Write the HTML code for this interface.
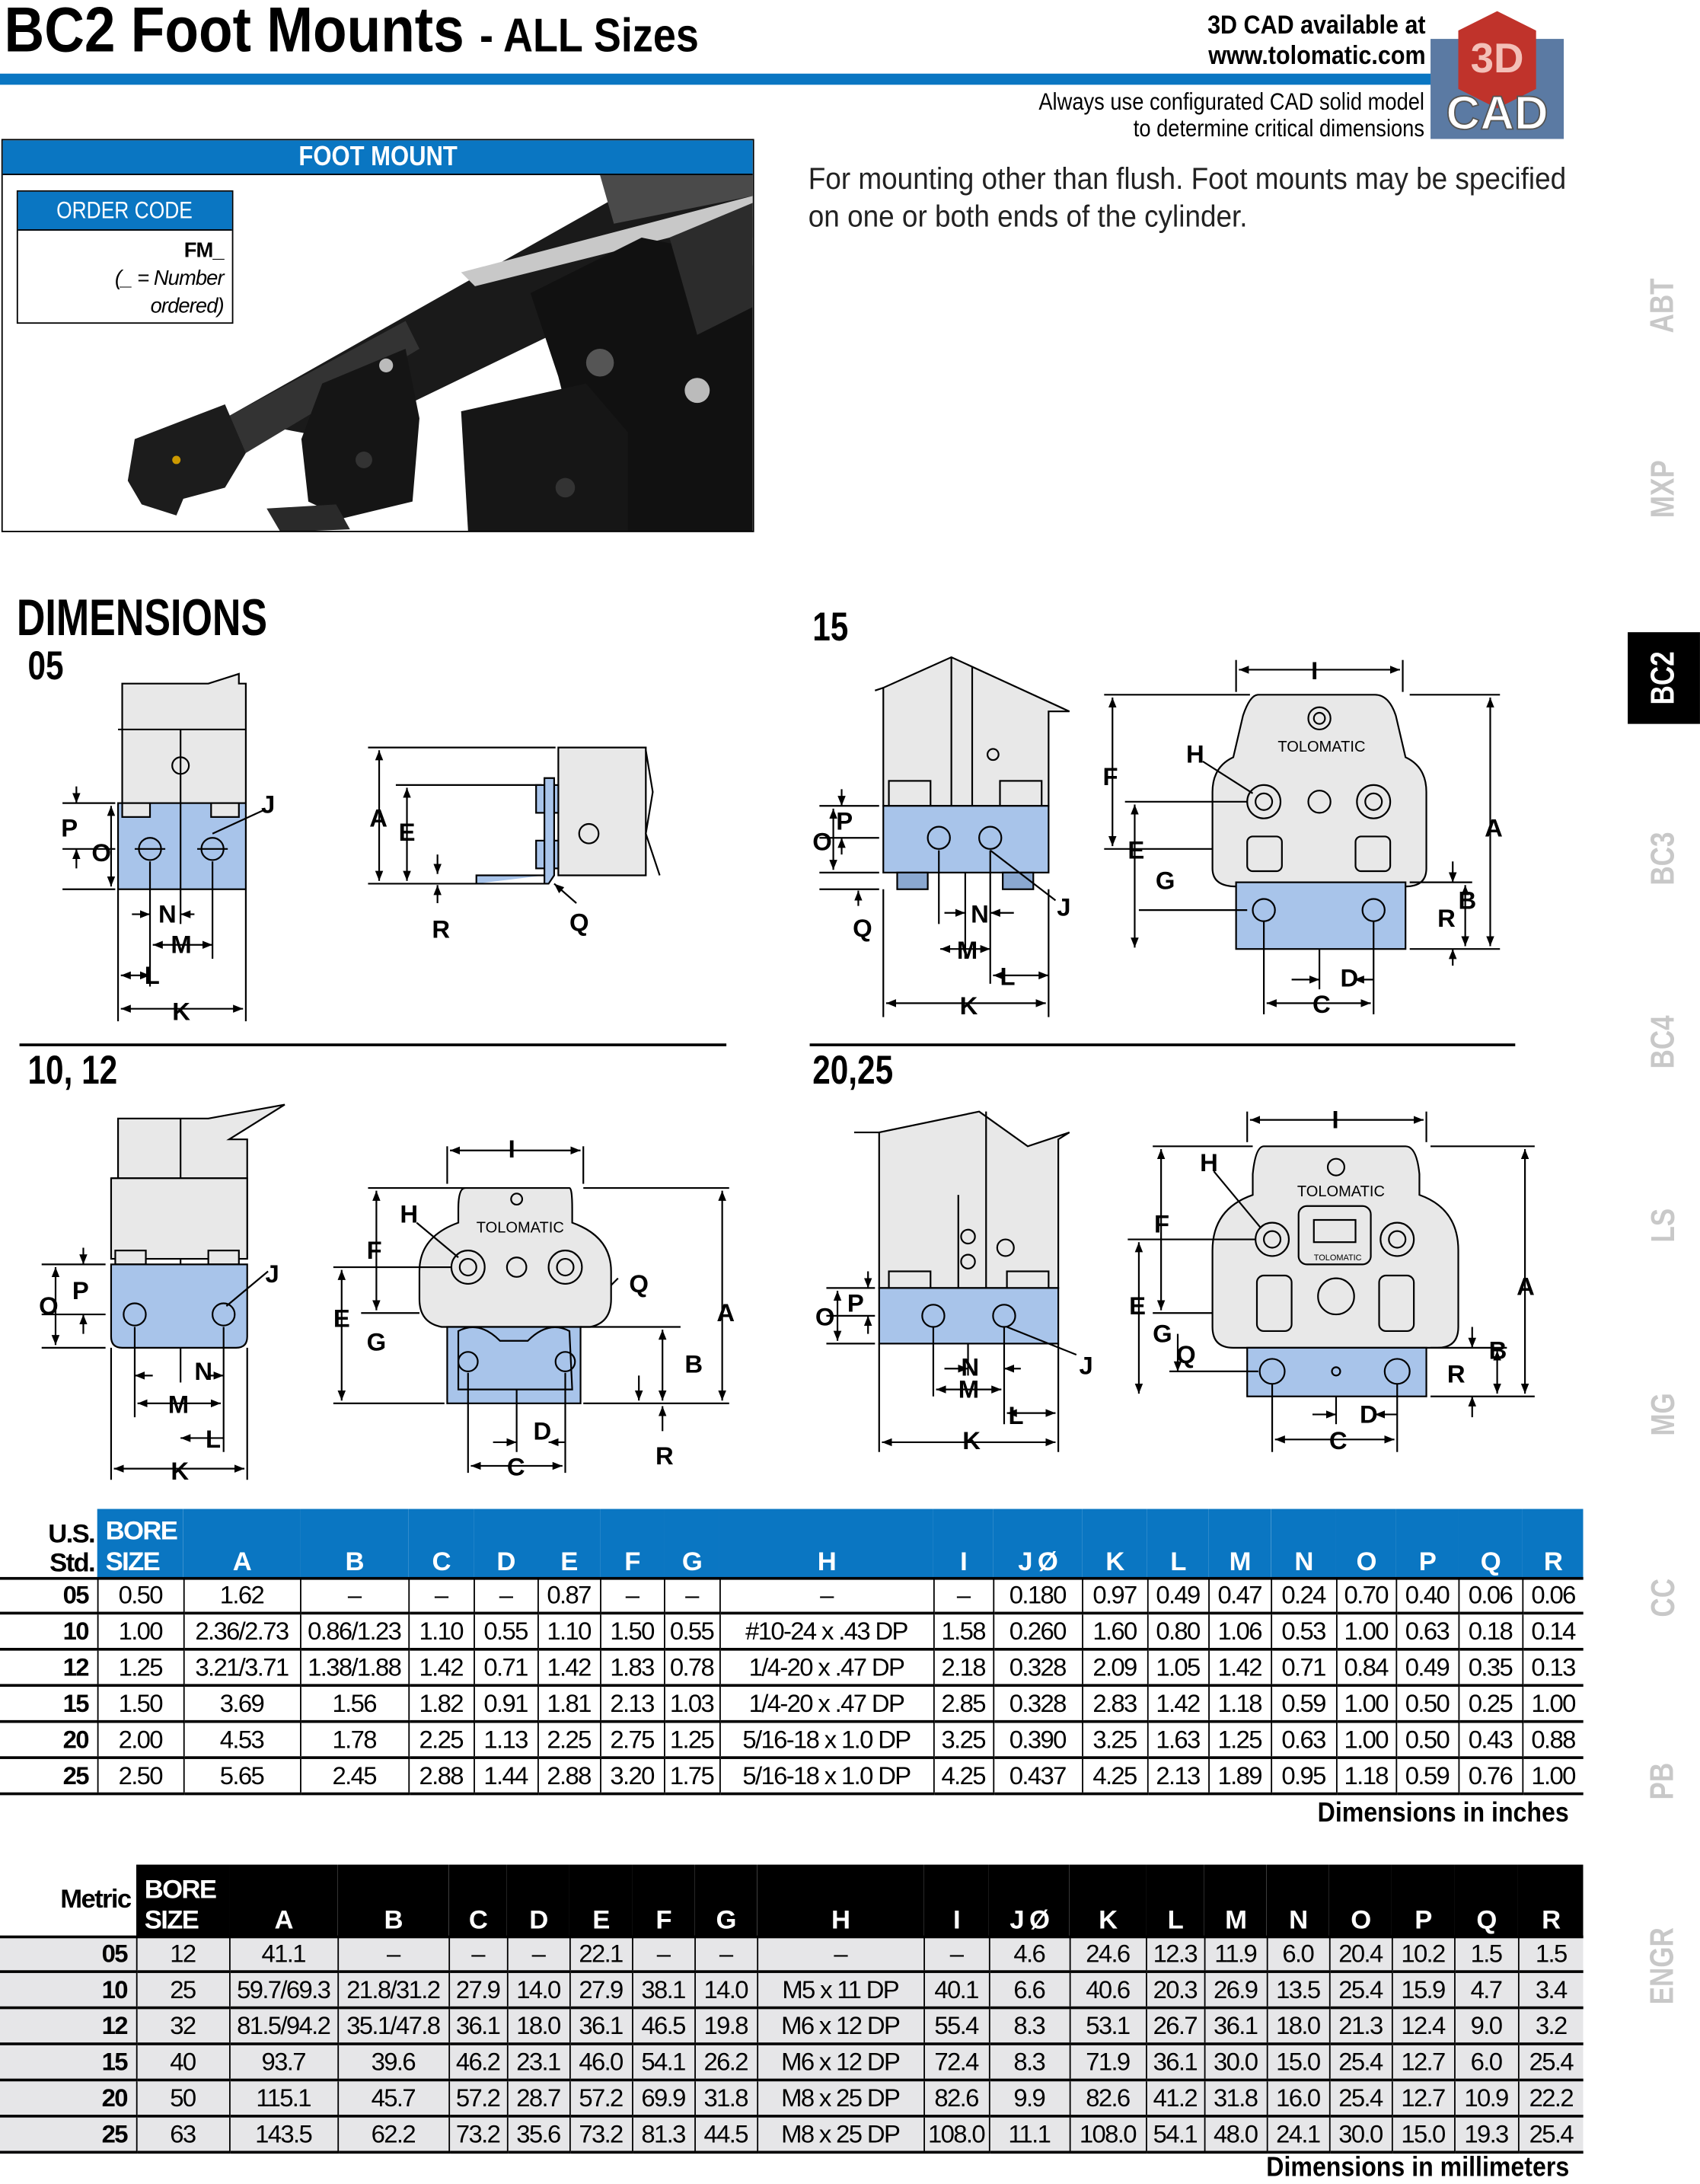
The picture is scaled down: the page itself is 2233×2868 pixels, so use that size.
<!DOCTYPE html>
<html><head><meta charset="utf-8">
<style>
html,body{margin:0;padding:0;background:#fff;}
body{width:2233px;height:2861px;overflow:hidden;position:relative;}
#pg{position:absolute;left:0;top:0;width:1224px;height:1568px;transform:scale(1.8243,1.8246);transform-origin:0 0;font-family:"Liberation Sans",sans-serif;}
.a{position:absolute;white-space:nowrap;}
.cl{transform:scaleX(0.8);transform-origin:0 0;}
.cr{transform:scaleX(0.88);transform-origin:100% 0;}
table{border-collapse:collapse;position:absolute;table-layout:fixed;font-family:"Liberation Sans",sans-serif;}
td{padding:0;text-align:center;font-size:18px;letter-spacing:-0.9px;height:24px;line-height:24px;overflow:hidden;white-space:nowrap;}
.us td{border-left:1px solid #000;border-bottom:2px solid #000;}
.us tr.h td{border:none;background:#0a76c2;color:#fff;font-weight:bold;font-size:19px;vertical-align:bottom;line-height:22px;height:50px;}
.us tr.h td.f{background:#fff;color:#000;text-align:right;padding-right:2px;line-height:21px;}
.us td.f{border-left:none;font-weight:bold;text-align:right;padding-right:6px;}
.mt td{border-left:1.5px solid #000;border-bottom:2px solid #000;background:#e6e6e8;}
.mt tr.h td{border:none;background:#000;color:#fff;font-weight:bold;font-size:19px;vertical-align:bottom;line-height:22px;height:52px;}
.mt tr.h td.f{background:#fff;color:#000;text-align:right;padding-right:4px;vertical-align:middle;}
.mt td.f{border-left:none;font-weight:bold;text-align:right;padding-right:6px;}
.tab{position:absolute;left:1172px;width:52px;height:60px;color:#c8c8c8;font-weight:bold;font-size:24px;display:flex;align-items:center;justify-content:center;}
.tab span{transform:rotate(-90deg) scaleX(0.8);display:block;}
</style></head><body><div id="pg">

<div class="a cl" style="left:3px;top:-6px;font-size:46px;font-weight:bold;transform:scaleX(0.87);">BC2 Foot Mounts <span style="font-size:34px;">- ALL Sizes</span></div>
<div class="a cr" style="right:198px;top:8px;font-size:19px;font-weight:bold;text-align:right;line-height:22px;">3D CAD available at<br>www.tolomatic.com</div>
<div class="a" style="left:0;top:53px;width:1045px;height:8px;background:#0a76c2;"></div>
<div class="a cr" style="right:198px;top:64px;font-size:17px;text-align:right;line-height:19px;">Always use configurated CAD solid model<br>to determine critical dimensions</div>
<svg class="a" style="left:1030px;top:8px;" width="96" height="92" viewBox="0 0 96 92">
<rect x="0" y="20" width="96" height="72" fill="#5b7aa3"/>
<polygon points="48,0 76,14 76,56 48,70 20,56 20,14" fill="#c0332b"/>
<text x="48" y="44" font-size="30" font-weight="bold" fill="#f3c0b8" text-anchor="middle" font-family="Liberation Sans">3D</text>
<text x="48" y="85" font-size="34" font-weight="bold" fill="#fff" stroke="#555" stroke-width="1" text-anchor="middle" font-family="Liberation Sans">CAD</text>
</svg>

<!-- foot mount box -->
<div class="a" style="left:1px;top:100px;width:540px;height:281px;border:1.5px solid #000;background:#fff;overflow:hidden;">
<svg width="540" height="281" style="position:absolute;left:0;top:0">
<polygon points="160,200 470,25 540,25 540,70 240,215" fill="#1a1a1a"/>
<polygon points="330,95 540,40 540,55 340,105" fill="#c8c8c8"/>
<polygon points="430,25 540,25 540,40 440,60" fill="#4a4a4a"/>
<polygon points="160,200 290,130 300,150 175,225" fill="#333"/>
<polygon points="95,215 160,190 175,225 160,250 130,258 125,270 100,262 90,245" fill="#1c1c1c"/>
<polygon points="230,175 290,150 300,200 295,260 245,272 220,260 215,215" fill="#151515"/>
<polygon points="190,265 240,262 250,280 200,282" fill="#2a2a2a"/>
<polygon points="380,110 460,70 510,80 540,90 540,281 440,281 420,250 400,170" fill="#111"/>
<polygon points="330,195 420,175 450,210 450,281 335,281" fill="#161616"/>
<polygon points="480,70 540,45 540,120 500,140" fill="#2c2c2c"/>
<circle cx="430" cy="160" r="10" fill="#555"/><circle cx="500" cy="180" r="9" fill="#bbb"/>
<circle cx="276" cy="162" r="5" fill="#bbb"/><circle cx="125" cy="230" r="3" fill="#c90"/>
<circle cx="405" cy="250" r="7" fill="#333"/><circle cx="260" cy="230" r="6" fill="#333"/>
</svg>
<div class="a" style="left:0;top:0;width:540px;height:24px;background:#0a76c2;border-bottom:1.5px solid #000;color:#fff;font-weight:bold;font-size:20px;text-align:center;line-height:25px;"><span style="display:inline-block;transform:scaleX(0.85);">FOOT MOUNT</span></div>
<div class="a" style="left:10px;top:36px;width:154px;height:94px;border:1.5px solid #000;background:#fff;">
<div style="height:27px;background:#0a76c2;border-bottom:1.5px solid #000;color:#fff;font-size:17px;text-align:center;line-height:28px;"><span style="display:inline-block;transform:scaleX(0.85);">ORDER CODE</span></div>
<div style="text-align:right;padding-right:6px;font-size:15px;line-height:20px;margin-top:5px;letter-spacing:-0.5px;"><b>FM_</b><br><i>(_ = Number<br>ordered)</i></div>
</div></div>

<div class="a" style="left:582px;top:115px;font-size:22px;line-height:27px;color:#222;transform:scaleX(0.92);transform-origin:0 0;">For mounting other than flush. Foot mounts may be specified<br>on one or both ends of the cylinder.</div>

<!-- side tabs -->
<div class="tab" style="top:190px;"><span>ABT</span></div>
<div class="tab" style="top:322px;"><span>MXP</span></div>
<div class="tab" style="top:455px;height:66px;background:#000;color:#fff;"><span>BC2</span></div>
<div class="tab" style="top:588px;"><span>BC3</span></div>
<div class="tab" style="top:720px;"><span>BC4</span></div>
<div class="tab" style="top:852px;"><span>LS</span></div>
<div class="tab" style="top:988px;"><span>MG</span></div>
<div class="tab" style="top:1120px;"><span>CC</span></div>
<div class="tab" style="top:1252px;"><span>PB</span></div>
<div class="tab" style="top:1385px;"><span>ENGR</span></div>

<div class="a" style="left:12px;top:424px;font-size:37px;font-weight:bold;transform:scaleX(0.77);transform-origin:0 0;">DIMENSIONS</div>
<div class="a cl" style="left:20px;top:464px;font-size:29px;font-weight:bold;">05</div>
<div class="a cl" style="left:585px;top:436px;font-size:29px;font-weight:bold;">15</div>
<div class="a cl" style="left:20px;top:755px;font-size:29px;font-weight:bold;">10, 12</div>
<div class="a cl" style="left:585px;top:755px;font-size:29px;font-weight:bold;">20,25</div>
<div class="a" style="left:14px;top:751px;width:509px;height:2px;background:#000;"></div>
<div class="a" style="left:583px;top:751px;width:508px;height:2px;background:#000;"></div>

<svg class="a" style="left:0;top:0" width="1224" height="1568" viewBox="0 0 1224 1568" font-family="Liberation Sans, sans-serif" font-size="18" font-weight="bold">
<defs><marker id="ar" viewBox="0 0 10 10" refX="10" refY="5" markerWidth="6" markerHeight="6" orient="auto-start-reverse"><path d="M0,1 L10,5 L0,9z" fill="#000"/></marker></defs>
<g stroke="#000" stroke-width="1.2" fill="none">
<!-- 05 front -->
<path d="M88,580 L88,492 L150,492 L172,485 L172,492 L177,492 L177,580Z" fill="#e8e8e8"/>
<line x1="85" y1="525" x2="177" y2="525"/>
<rect x="85" y="578" width="92" height="62" fill="#a8c4ea"/>
<rect x="88" y="578" width="20" height="10" fill="#e8e8e8"/><rect x="152" y="578" width="20" height="10" fill="#e8e8e8"/>
<line x1="130" y1="525" x2="130" y2="640"/>
<circle cx="130" cy="551" r="6"/><circle cx="108" cy="611" r="8"/><circle cx="153" cy="611" r="8"/>
<line x1="97" y1="611" x2="119" y2="611"/><line x1="142" y1="611" x2="164" y2="611"/>
<line x1="153" y1="600" x2="190" y2="583"/>
<line x1="45" y1="578" x2="83" y2="578"/><line x1="45" y1="611" x2="83" y2="611"/><line x1="45" y1="640" x2="83" y2="640"/>
<line x1="55" y1="566" x2="55" y2="578" marker-end="url(#ar)"/><line x1="55" y1="625" x2="55" y2="611" marker-end="url(#ar)"/>
<line x1="80" y1="580" x2="80" y2="638" marker-start="url(#ar)" marker-end="url(#ar)"/>
<line x1="85" y1="640" x2="85" y2="735"/><line x1="177" y1="640" x2="177" y2="735"/>
<line x1="108" y1="620" x2="108" y2="710"/><line x1="153" y1="620" x2="153" y2="690"/><line x1="130" y1="640" x2="130" y2="665"/>
<line x1="95" y1="658" x2="108" y2="658" marker-end="url(#ar)"/><line x1="140" y1="658" x2="130" y2="658" marker-end="url(#ar)"/>
<line x1="110" y1="680" x2="153" y2="680" marker-start="url(#ar)" marker-end="url(#ar)"/>
<line x1="87" y1="702" x2="108" y2="702" marker-start="url(#ar)" marker-end="url(#ar)"/>
<line x1="87" y1="726" x2="175" y2="726" marker-start="url(#ar)" marker-end="url(#ar)"/>
<!-- 05 side -->
<path d="M402,538 L465,538 L465,630 L402,630Z" fill="#e8e8e8"/>
<path d="M465,540 L470,570 L465,600 L475,630" />
<rect x="386" y="565" width="16" height="20" fill="#a8c4ea"/><rect x="386" y="605" width="16" height="20" fill="#a8c4ea"/>
<path d="M343,636 L392,636 L392,560 L399,560 L399,630 L395,636 L343,636 L343,630 L392,630" fill="#a8c4ea"/>
<circle cx="424" cy="600" r="7"/>
<line x1="265" y1="538" x2="400" y2="538"/><line x1="265" y1="636" x2="343" y2="636"/><line x1="285" y1="565" x2="390" y2="565"/>
<line x1="273" y1="540" x2="273" y2="634" marker-start="url(#ar)" marker-end="url(#ar)"/>
<line x1="293" y1="567" x2="293" y2="634" marker-start="url(#ar)" marker-end="url(#ar)"/>
<line x1="315" y1="650" x2="315" y2="637" marker-end="url(#ar)"/><line x1="315" y1="615" x2="315" y2="629" marker-end="url(#ar)"/>
<line x1="415" y1="650" x2="399" y2="636" marker-end="url(#ar)"/>
<!-- 15 side -->
<path d="M636,580 L636,495 L685,473 L770,512 L755,512 L755,580Z" fill="#e8e8e8"/>
<line x1="685" y1="473" x2="685" y2="580"/><line x1="700" y1="480" x2="700" y2="580"/><line x1="630" y1="497" x2="636" y2="495"/>
<circle cx="715" cy="543" r="4"/>
<rect x="640" y="562" width="30" height="18" fill="#e8e8e8"/><rect x="720" y="562" width="30" height="18" fill="#e8e8e8"/>
<rect x="636" y="580" width="119" height="48" fill="#a8c4ea"/>
<rect x="646" y="628" width="22" height="12" fill="#8aa8d0"/><rect x="722" y="628" width="22" height="12" fill="#8aa8d0"/>
<circle cx="676" cy="603" r="8"/><circle cx="713" cy="603" r="8"/>
<line x1="713" y1="612" x2="760" y2="648"/>
<line x1="590" y1="580" x2="633" y2="580"/><line x1="590" y1="603" x2="633" y2="603"/><line x1="590" y1="628" x2="633" y2="628"/><line x1="590" y1="640" x2="633" y2="640"/>
<line x1="606" y1="568" x2="606" y2="580" marker-end="url(#ar)"/><line x1="606" y1="615" x2="606" y2="603" marker-end="url(#ar)"/>
<line x1="600" y1="582" x2="600" y2="626" marker-start="url(#ar)" marker-end="url(#ar)"/>
<line x1="618" y1="652" x2="618" y2="641" marker-end="url(#ar)"/>
<line x1="636" y1="640" x2="636" y2="732"/><line x1="755" y1="640" x2="755" y2="732"/><line x1="676" y1="612" x2="676" y2="665"/><line x1="713" y1="612" x2="713" y2="708"/><line x1="695" y1="628" x2="695" y2="690"/>
<line x1="680" y1="657" x2="695" y2="657" marker-end="url(#ar)"/><line x1="730" y1="657" x2="713" y2="657" marker-end="url(#ar)"/>
<line x1="677" y1="683" x2="713" y2="683" marker-start="url(#ar)" marker-end="url(#ar)"/>
<line x1="715" y1="702" x2="755" y2="702" marker-start="url(#ar)" marker-end="url(#ar)"/>
<line x1="638" y1="722" x2="753" y2="722" marker-start="url(#ar)" marker-end="url(#ar)"/>
<!-- 15 front -->
<path d="M906,500 L990,500 Q1000,500 1005,515 L1012,545 Q1027,552 1027,570 L1027,625 Q1027,638 1012,638 L890,638 Q873,638 873,625 L873,570 Q873,552 888,545 L895,515 Q900,500 906,500Z" fill="#e8e8e8"/>
<rect x="890" y="635" width="122" height="48" fill="#a8c4ea"/>
<circle cx="910" cy="577" r="12"/><circle cx="910" cy="577" r="6"/><circle cx="989" cy="577" r="12"/><circle cx="989" cy="577" r="6"/>
<circle cx="950" cy="577" r="8"/><circle cx="950" cy="517" r="8"/><circle cx="950" cy="517" r="4"/>
<rect x="898" y="602" width="25" height="25" rx="4"/><rect x="976" y="602" width="25" height="25" rx="4"/>
<circle cx="910" cy="655" r="8"/><circle cx="989" cy="655" r="8"/>
<line x1="890" y1="475" x2="890" y2="498"/><line x1="1010" y1="475" x2="1010" y2="498"/>
<line x1="892" y1="482" x2="1008" y2="482" marker-start="url(#ar)" marker-end="url(#ar)"/>
<line x1="866" y1="548" x2="902" y2="571"/>
<line x1="795" y1="500" x2="900" y2="500"/><line x1="795" y1="611" x2="873" y2="611"/><line x1="810" y1="577" x2="898" y2="577"/><line x1="820" y1="655" x2="898" y2="655"/>
<line x1="801" y1="502" x2="801" y2="609" marker-start="url(#ar)" marker-end="url(#ar)"/>
<line x1="817" y1="579" x2="817" y2="682" marker-start="url(#ar)" marker-end="url(#ar)"/>
<line x1="1015" y1="683" x2="1080" y2="683"/><line x1="1015" y1="500" x2="1080" y2="500"/><line x1="1015" y1="635" x2="1060" y2="635"/>
<line x1="1073" y1="502" x2="1073" y2="681" marker-start="url(#ar)" marker-end="url(#ar)"/>
<line x1="1055" y1="637" x2="1055" y2="681" marker-start="url(#ar)" marker-end="url(#ar)"/>
<line x1="1046" y1="620" x2="1046" y2="635" marker-end="url(#ar)"/><line x1="1046" y1="695" x2="1046" y2="683" marker-end="url(#ar)"/>
<line x1="910" y1="663" x2="910" y2="730"/><line x1="989" y1="663" x2="989" y2="730"/><line x1="950" y1="683" x2="950" y2="712"/>
<line x1="930" y1="705" x2="950" y2="705" marker-end="url(#ar)"/><line x1="975" y1="705" x2="989" y2="705" marker-start="url(#ar)"/>
<line x1="912" y1="722" x2="987" y2="722" marker-start="url(#ar)" marker-end="url(#ar)"/>
<!-- 10,12 side -->
<path d="M85,905 L85,805 L150,805 L205,795 L165,820 L178,820 L178,905Z" fill="#e8e8e8"/>
<line x1="80" y1="848" x2="178" y2="848"/><line x1="130" y1="805" x2="130" y2="970"/>
<rect x="80" y="848" width="98" height="58" fill="#e8e8e8"/>
<rect x="83" y="900" width="22" height="10" fill="#e8e8e8"/><rect x="150" y="900" width="22" height="10" fill="#e8e8e8"/>
<path d="M80,910 L178,910 L178,962 Q178,970 170,970 L88,970 Q80,970 80,962Z" fill="#a8c4ea"/>
<circle cx="97" cy="946" r="8"/><circle cx="161" cy="946" r="8"/>
<line x1="163" y1="940" x2="193" y2="915"/>
<line x1="30" y1="910" x2="76" y2="910"/><line x1="30" y1="946" x2="76" y2="946"/><line x1="30" y1="970" x2="76" y2="970"/>
<line x1="60" y1="898" x2="60" y2="910" marker-end="url(#ar)"/><line x1="60" y1="960" x2="60" y2="946" marker-end="url(#ar)"/>
<line x1="40" y1="912" x2="40" y2="968" marker-start="url(#ar)" marker-end="url(#ar)"/>
<line x1="80" y1="970" x2="80" y2="1065"/><line x1="178" y1="970" x2="178" y2="1065"/><line x1="97" y1="955" x2="97" y2="1020"/><line x1="161" y1="955" x2="161" y2="1045"/><line x1="130" y1="970" x2="130" y2="995"/>
<line x1="110" y1="990" x2="97" y2="990" marker-end="url(#ar)"/><line x1="150" y1="990" x2="161" y2="990" marker-end="url(#ar)"/>
<line x1="99" y1="1010" x2="159" y2="1010" marker-start="url(#ar)" marker-end="url(#ar)"/>
<line x1="130" y1="1035" x2="161" y2="1035" marker-start="url(#ar)"/>
<line x1="82" y1="1057" x2="176" y2="1057" marker-start="url(#ar)" marker-end="url(#ar)"/>
<!-- 10,12 front -->
<path d="M335,855 L410,855 Q412,855 412,870 L412,880 Q440,890 440,915 L440,935 Q440,952 425,955 L318,955 Q302,952 302,935 L302,915 Q302,890 330,880 L330,870 Q330,855 335,855Z" fill="#e8e8e8"/>
<path d="M322,955 L418,955 L418,1010 L322,1010Z" fill="#a8c4ea"/>
<path d="M330,958 Q345,950 360,965 L380,965 Q395,950 410,958 L412,1000 L330,1000Z" fill="#a8c4ea"/>
<circle cx="337" cy="912" r="12"/><circle cx="337" cy="912" r="6"/><circle cx="407" cy="912" r="12"/><circle cx="407" cy="912" r="6"/>
<circle cx="372" cy="912" r="7"/><circle cx="372" cy="863" r="4"/>
<circle cx="337" cy="980" r="7"/><circle cx="407" cy="980" r="7"/>
<line x1="322" y1="825" x2="322" y2="852"/><line x1="420" y1="825" x2="420" y2="852"/>
<line x1="324" y1="828" x2="418" y2="828" marker-start="url(#ar)" marker-end="url(#ar)"/>
<line x1="300" y1="880" x2="330" y2="905"/>
<line x1="265" y1="855" x2="335" y2="855"/><line x1="240" y1="912" x2="325" y2="912"/><line x1="240" y1="1010" x2="320" y2="1010"/><line x1="260" y1="945" x2="302" y2="945"/>
<line x1="271" y1="857" x2="271" y2="943" marker-start="url(#ar)" marker-end="url(#ar)"/>
<line x1="246" y1="914" x2="246" y2="1008" marker-start="url(#ar)" marker-end="url(#ar)"/>
<line x1="420" y1="855" x2="525" y2="855"/><line x1="420" y1="1010" x2="525" y2="1010"/><line x1="418" y1="955" x2="490" y2="955"/>
<line x1="520" y1="857" x2="520" y2="1008" marker-start="url(#ar)" marker-end="url(#ar)"/>
<line x1="477" y1="957" x2="477" y2="1008" marker-start="url(#ar)" marker-end="url(#ar)"/>
<line x1="460" y1="990" x2="460" y2="1008" marker-end="url(#ar)"/><line x1="445" y1="920" x2="440" y2="925"/>
<line x1="477" y1="1030" x2="477" y2="1012" marker-end="url(#ar)"/>
<line x1="337" y1="988" x2="337" y2="1060"/><line x1="407" y1="988" x2="407" y2="1060"/><line x1="372" y1="1000" x2="372" y2="1045"/>
<line x1="355" y1="1038" x2="372" y2="1038" marker-end="url(#ar)"/><line x1="395" y1="1038" x2="407" y2="1038" marker-start="url(#ar)"/>
<line x1="339" y1="1055" x2="405" y2="1055" marker-start="url(#ar)" marker-end="url(#ar)"/>
<!-- 20,25 side -->
<path d="M633,927 L633,815 L705,800 L740,825 L770,815 L762,820 L762,927Z" fill="#e8e8e8"/>
<line x1="633" y1="815" x2="615" y2="815"/><line x1="710" y1="800" x2="710" y2="927"/><line x1="690" y1="860" x2="690" y2="927"/>
<circle cx="697" cy="890" r="5"/><circle cx="697" cy="908" r="5"/><circle cx="724" cy="898" r="6"/>
<rect x="640" y="915" width="30" height="12" fill="#e8e8e8"/><rect x="725" y="915" width="30" height="12" fill="#e8e8e8"/>
<rect x="633" y="927" width="129" height="40" fill="#a8c4ea"/>
<circle cx="672" cy="947" r="8"/><circle cx="723" cy="947" r="8"/>
<line x1="725" y1="955" x2="775" y2="975"/>
<line x1="595" y1="927" x2="630" y2="927"/><line x1="595" y1="947" x2="630" y2="947"/><line x1="595" y1="967" x2="630" y2="967"/>
<line x1="625" y1="915" x2="625" y2="927" marker-end="url(#ar)"/><line x1="625" y1="960" x2="625" y2="947" marker-end="url(#ar)"/>
<line x1="603" y1="929" x2="603" y2="965" marker-start="url(#ar)" marker-end="url(#ar)"/>
<line x1="633" y1="967" x2="633" y2="1045"/><line x1="762" y1="967" x2="762" y2="1045"/><line x1="672" y1="955" x2="672" y2="1005"/><line x1="723" y1="955" x2="723" y2="1025"/><line x1="697" y1="967" x2="697" y2="990"/>
<line x1="680" y1="985" x2="697" y2="985" marker-end="url(#ar)"/><line x1="735" y1="985" x2="723" y2="985" marker-end="url(#ar)"/>
<line x1="674" y1="1000" x2="721" y2="1000" marker-start="url(#ar)" marker-end="url(#ar)"/>
<line x1="725" y1="1017" x2="760" y2="1017" marker-start="url(#ar)" marker-end="url(#ar)"/>
<line x1="635" y1="1038" x2="760" y2="1038" marker-start="url(#ar)" marker-end="url(#ar)"/>
<!-- 20,25 front -->
<path d="M910,825 L1012,825 Q1020,825 1022,845 L1022,860 Q1050,870 1050,900 L1050,955 Q1050,970 1035,970 L888,970 Q873,970 873,955 L873,900 Q873,870 902,860 L902,845 Q904,825 910,825Z" fill="#e8e8e8"/>
<rect x="898" y="970" width="129" height="35" fill="#a8c4ea"/>
<circle cx="916" cy="892" r="12"/><circle cx="916" cy="892" r="6"/><circle cx="1006" cy="892" r="12"/><circle cx="1006" cy="892" r="6"/>
<rect x="935" y="868" width="52" height="42" rx="6"/><rect x="946" y="878" width="30" height="16"/>
<circle cx="962" cy="840" r="6"/><circle cx="962" cy="933" r="13"/>
<rect x="905" y="918" width="25" height="40" rx="5"/><rect x="993" y="918" width="25" height="40" rx="5"/>
<circle cx="916" cy="987" r="9"/><circle cx="1006" cy="987" r="9"/><circle cx="962" cy="987" r="3"/>
<line x1="898" y1="800" x2="898" y2="822"/><line x1="1027" y1="800" x2="1027" y2="822"/>
<line x1="900" y1="806" x2="1025" y2="806" marker-start="url(#ar)" marker-end="url(#ar)"/>
<line x1="874" y1="843" x2="908" y2="884"/>
<line x1="830" y1="825" x2="902" y2="825"/><line x1="812" y1="892" x2="904" y2="892"/><line x1="830" y1="945" x2="873" y2="945"/><line x1="842" y1="987" x2="906" y2="987"/>
<line x1="836" y1="827" x2="836" y2="943" marker-start="url(#ar)" marker-end="url(#ar)"/>
<line x1="820" y1="894" x2="820" y2="1003" marker-start="url(#ar)" marker-end="url(#ar)"/>
<line x1="848" y1="960" x2="848" y2="987" marker-end="url(#ar)"/>
<line x1="1030" y1="825" x2="1105" y2="825"/><line x1="1030" y1="1005" x2="1105" y2="1005"/><line x1="1030" y1="970" x2="1085" y2="970"/>
<line x1="1098" y1="827" x2="1098" y2="1003" marker-start="url(#ar)" marker-end="url(#ar)"/>
<line x1="1078" y1="972" x2="1078" y2="1003" marker-start="url(#ar)" marker-end="url(#ar)"/>
<line x1="1060" y1="955" x2="1060" y2="970" marker-end="url(#ar)"/><line x1="1060" y1="1020" x2="1060" y2="1005" marker-end="url(#ar)"/>
<line x1="916" y1="996" x2="916" y2="1045"/><line x1="1006" y1="996" x2="1006" y2="1045"/><line x1="962" y1="1005" x2="962" y2="1025"/>
<line x1="945" y1="1018" x2="962" y2="1018" marker-end="url(#ar)"/><line x1="990" y1="1018" x2="1006" y2="1018" marker-start="url(#ar)"/>
<line x1="918" y1="1036" x2="1004" y2="1036" marker-start="url(#ar)" marker-end="url(#ar)"/>
</g>
<g fill="#000">
<text x="188" y="585">J</text><text x="44" y="602">P</text><text x="66" y="620">O</text><text x="114" y="664">N</text><text x="123" y="686">M</text><text x="104" y="708">L</text><text x="124" y="734">K</text>
<text x="266" y="595">A</text><text x="287" y="605">E</text><text x="311" y="675">R</text><text x="410" y="670">Q</text>
<text x="602" y="597">P</text><text x="585" y="612">O</text><text x="614" y="674">Q</text><text x="699" y="664">N</text><text x="689" y="690">M</text><text x="720" y="709">L</text><text x="691" y="730">K</text><text x="761" y="659">J</text>
<text x="944" y="489">I</text><text x="854" y="549">H</text><text x="794" y="565">F</text><text x="812" y="618">E</text><text x="832" y="640">G</text><text x="1069" y="602">A</text><text x="1050" y="654">B</text><text x="1035" y="667">R</text><text x="965" y="710">D</text><text x="945" y="729">C</text>
<text x="191" y="923">J</text><text x="52" y="935">P</text><text x="28" y="946">O</text><text x="140" y="993">N</text><text x="121" y="1017">M</text><text x="148" y="1042">L</text><text x="123" y="1065">K</text>
<text x="366" y="833">I</text><text x="288" y="880">H</text><text x="264" y="906">F</text><text x="240" y="955">E</text><text x="264" y="972">G</text><text x="453" y="930">Q</text><text x="516" y="951">A</text><text x="493" y="988">B</text><text x="472" y="1054">R</text><text x="384" y="1036">D</text><text x="365" y="1062">C</text>
<text x="610" y="944">P</text><text x="587" y="954">O</text><text x="692" y="990">N</text><text x="690" y="1006">M</text><text x="726" y="1025">L</text><text x="693" y="1043">K</text><text x="777" y="989">J</text>
<text x="959" y="812">I</text><text x="864" y="843">H</text><text x="831" y="887">F</text><text x="813" y="946">E</text><text x="830" y="966">G</text><text x="847" y="981">Q</text><text x="1092" y="932">A</text><text x="1072" y="978">B</text><text x="1042" y="995">R</text><text x="979" y="1024">D</text><text x="957" y="1043">C</text>
</g>
<g font-weight="normal" font-size="11" fill="#000">
<text x="920" y="541">TOLOMATIC</text><text x="343" y="887">TOLOMATIC</text><text x="934" y="861">TOLOMATIC</text>
<text x="946" y="907" font-size="6">TOLOMATIC</text>
</g>
</svg>

<!-- US table -->
<table class="us" style="left:0;top:1086px;width:1140px;">
<colgroup><col style="width:70px"><col style="width:62px"><col style="width:84px"><col style="width:78px"><col style="width:47px"><col style="width:46px"><col style="width:45px"><col style="width:46px"><col style="width:40px"><col style="width:154px"><col style="width:43px"><col style="width:64px"><col style="width:47px"><col style="width:44px"><col style="width:45px"><col style="width:47px"><col style="width:43px"><col style="width:45px"><col style="width:46px"><col style="width:44px"></colgroup>
<tr class="h"><td class="f">U.S.<br>Std.</td><td style="text-align:left;padding-left:6px;">BORE<br>SIZE</td><td>A</td><td>B</td><td>C</td><td>D</td><td>E</td><td>F</td><td>G</td><td>H</td><td>I</td><td>J Ø</td><td>K</td><td>L</td><td>M</td><td>N</td><td>O</td><td>P</td><td>Q</td><td>R</td></tr>
<tr><td class="f">05</td><td>0.50</td><td>1.62</td><td>–</td><td>–</td><td>–</td><td>0.87</td><td>–</td><td>–</td><td>–</td><td>–</td><td>0.180</td><td>0.97</td><td>0.49</td><td>0.47</td><td>0.24</td><td>0.70</td><td>0.40</td><td>0.06</td><td>0.06</td></tr>
<tr><td class="f">10</td><td>1.00</td><td>2.36/2.73</td><td>0.86/1.23</td><td>1.10</td><td>0.55</td><td>1.10</td><td>1.50</td><td>0.55</td><td>#10-24 x .43 DP</td><td>1.58</td><td>0.260</td><td>1.60</td><td>0.80</td><td>1.06</td><td>0.53</td><td>1.00</td><td>0.63</td><td>0.18</td><td>0.14</td></tr>
<tr><td class="f">12</td><td>1.25</td><td>3.21/3.71</td><td>1.38/1.88</td><td>1.42</td><td>0.71</td><td>1.42</td><td>1.83</td><td>0.78</td><td>1/4-20 x .47 DP</td><td>2.18</td><td>0.328</td><td>2.09</td><td>1.05</td><td>1.42</td><td>0.71</td><td>0.84</td><td>0.49</td><td>0.35</td><td>0.13</td></tr>
<tr><td class="f">15</td><td>1.50</td><td>3.69</td><td>1.56</td><td>1.82</td><td>0.91</td><td>1.81</td><td>2.13</td><td>1.03</td><td>1/4-20 x .47 DP</td><td>2.85</td><td>0.328</td><td>2.83</td><td>1.42</td><td>1.18</td><td>0.59</td><td>1.00</td><td>0.50</td><td>0.25</td><td>1.00</td></tr>
<tr><td class="f">20</td><td>2.00</td><td>4.53</td><td>1.78</td><td>2.25</td><td>1.13</td><td>2.25</td><td>2.75</td><td>1.25</td><td>5/16-18 x 1.0 DP</td><td>3.25</td><td>0.390</td><td>3.25</td><td>1.63</td><td>1.25</td><td>0.63</td><td>1.00</td><td>0.50</td><td>0.43</td><td>0.88</td></tr>
<tr><td class="f">25</td><td>2.50</td><td>5.65</td><td>2.45</td><td>2.88</td><td>1.44</td><td>2.88</td><td>3.20</td><td>1.75</td><td>5/16-18 x 1.0 DP</td><td>4.25</td><td>0.437</td><td>4.25</td><td>2.13</td><td>1.89</td><td>0.95</td><td>1.18</td><td>0.59</td><td>0.76</td><td>1.00</td></tr>
</table>
<div class="a" style="left:0;top:1135px;width:1140px;height:2px;background:#000;"></div>
<div class="a cr" style="right:94px;top:1294px;font-size:20px;font-weight:bold;">Dimensions in inches</div>

<!-- Metric table -->
<table class="mt" style="left:0;top:1342px;width:1140px;">
<colgroup><col style="width:98px"><col style="width:67px"><col style="width:78px"><col style="width:80px"><col style="width:42px"><col style="width:45px"><col style="width:45px"><col style="width:45px"><col style="width:45px"><col style="width:120px"><col style="width:47px"><col style="width:58px"><col style="width:55px"><col style="width:42px"><col style="width:45px"><col style="width:45px"><col style="width:45px"><col style="width:45px"><col style="width:46px"><col style="width:47px"></colgroup>
<tr class="h"><td class="f">Metric</td><td style="text-align:left;padding-left:6px;">BORE<br>SIZE</td><td>A</td><td>B</td><td>C</td><td>D</td><td>E</td><td>F</td><td>G</td><td>H</td><td>I</td><td>J Ø</td><td>K</td><td>L</td><td>M</td><td>N</td><td>O</td><td>P</td><td>Q</td><td>R</td></tr>
<tr><td class="f">05</td><td>12</td><td>41.1</td><td>–</td><td>–</td><td>–</td><td>22.1</td><td>–</td><td>–</td><td>–</td><td>–</td><td>4.6</td><td>24.6</td><td>12.3</td><td>11.9</td><td>6.0</td><td>20.4</td><td>10.2</td><td>1.5</td><td>1.5</td></tr>
<tr><td class="f">10</td><td>25</td><td>59.7/69.3</td><td>21.8/31.2</td><td>27.9</td><td>14.0</td><td>27.9</td><td>38.1</td><td>14.0</td><td>M5 x 11 DP</td><td>40.1</td><td>6.6</td><td>40.6</td><td>20.3</td><td>26.9</td><td>13.5</td><td>25.4</td><td>15.9</td><td>4.7</td><td>3.4</td></tr>
<tr><td class="f">12</td><td>32</td><td>81.5/94.2</td><td>35.1/47.8</td><td>36.1</td><td>18.0</td><td>36.1</td><td>46.5</td><td>19.8</td><td>M6 x 12 DP</td><td>55.4</td><td>8.3</td><td>53.1</td><td>26.7</td><td>36.1</td><td>18.0</td><td>21.3</td><td>12.4</td><td>9.0</td><td>3.2</td></tr>
<tr><td class="f">15</td><td>40</td><td>93.7</td><td>39.6</td><td>46.2</td><td>23.1</td><td>46.0</td><td>54.1</td><td>26.2</td><td>M6 x 12 DP</td><td>72.4</td><td>8.3</td><td>71.9</td><td>36.1</td><td>30.0</td><td>15.0</td><td>25.4</td><td>12.7</td><td>6.0</td><td>25.4</td></tr>
<tr><td class="f">20</td><td>50</td><td>115.1</td><td>45.7</td><td>57.2</td><td>28.7</td><td>57.2</td><td>69.9</td><td>31.8</td><td>M8 x 25 DP</td><td>82.6</td><td>9.9</td><td>82.6</td><td>41.2</td><td>31.8</td><td>16.0</td><td>25.4</td><td>12.7</td><td>10.9</td><td>22.2</td></tr>
<tr><td class="f">25</td><td>63</td><td>143.5</td><td>62.2</td><td>73.2</td><td>35.6</td><td>73.2</td><td>81.3</td><td>44.5</td><td>M8 x 25 DP</td><td>108.0</td><td>11.1</td><td>108.0</td><td>54.1</td><td>48.0</td><td>24.1</td><td>30.0</td><td>15.0</td><td>19.3</td><td>25.4</td></tr>
</table>
<div class="a" style="left:0;top:1393px;width:1140px;height:2px;background:#000;"></div>
<div class="a cr" style="right:94px;top:1549px;font-size:20px;font-weight:bold;">Dimensions in millimeters</div>

</div></body></html>
